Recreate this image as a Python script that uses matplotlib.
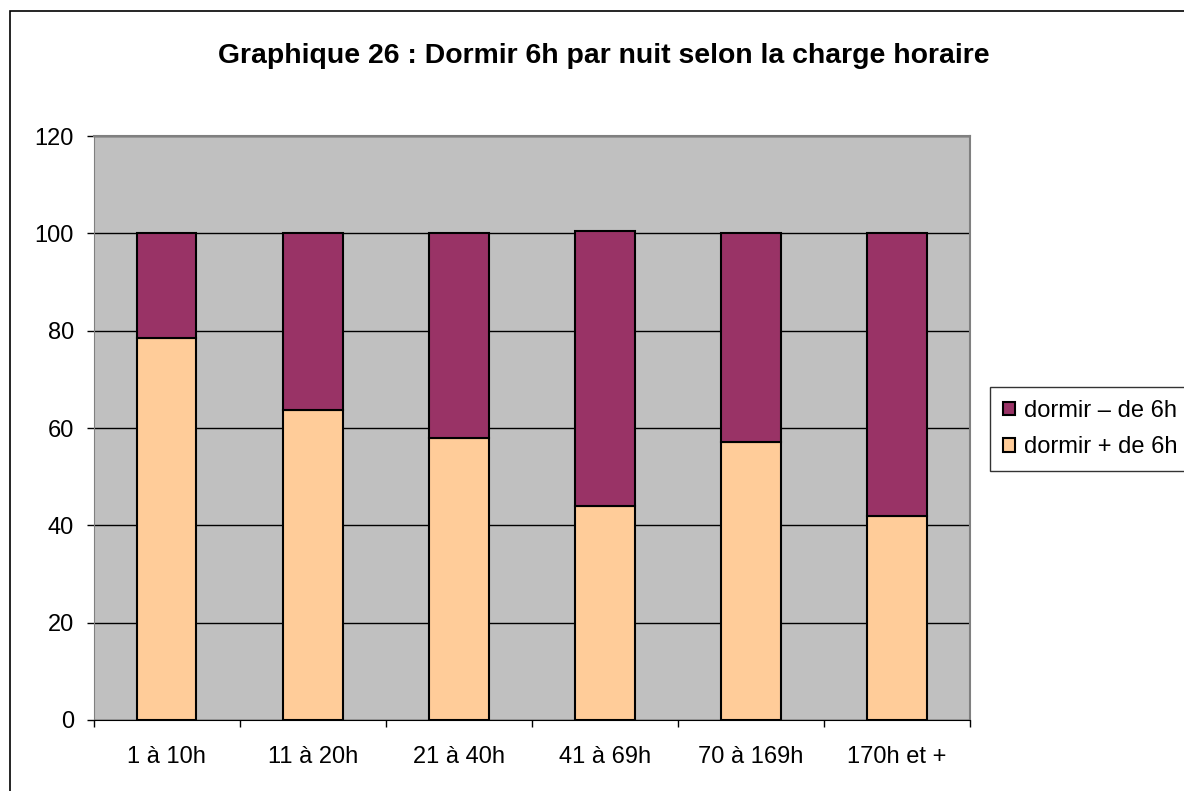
import matplotlib.pyplot as plt
import matplotlib.patches as patches
import numpy as np

categories = ["1 à 10h", "11 à 20h", "21 à 40h", "41 à 69h", "70 à 169h", "170h et +"]
plus_6h = [78.5, 63.8, 58.0, 43.9, 57.2, 41.9]
moins_6h = [21.5, 36.2, 42.0, 56.5, 42.8, 58.1]
yticks = [0, 20, 40, 60, 80, 100, 120]

W, H = 1184, 791
plt.rcParams["font.family"] = ["Liberation Sans", "DejaVu Sans"]

fig = plt.figure(figsize=(W / 100, H / 100), dpi=100)
ax = fig.add_axes([93.5 / W, (H - 720) / H, (970 - 93.5) / W, (720 - 136) / H])

x = np.arange(len(categories))
b1 = ax.bar(x, plus_6h, width=0.41, color="#FFCC99", edgecolor="black", linewidth=1.5, zorder=3)
b2 = ax.bar(x, moins_6h, bottom=plus_6h, width=0.41, color="#993366", edgecolor="black",
            linewidth=1.5, zorder=3)

ax.set_facecolor("#C0C0C0")
ax.set_xlim(-0.5, len(categories) - 0.5)
ax.set_ylim(0, 120)
ax.set_yticks(yticks)
ax.tick_params(axis="y", labelsize=17, length=5, width=1, pad=9)
ax.set_xticks(x)
ax.set_xticklabels(categories)
ax.set_xticks(np.arange(len(categories) + 1) - 0.5, minor=True)
ax.tick_params(axis="x", which="major", length=0, labelsize=17, pad=19)
ax.tick_params(axis="x", which="minor", length=5, width=1)
ax.yaxis.grid(True, color="black", linewidth=1, zorder=1)
ax.set_axisbelow(True)
for s in ["top", "right"]:
    ax.spines[s].set_color("#808080")
    ax.spines[s].set_linewidth(1.5)
ax.spines["left"].set_color("#808080")
ax.spines["bottom"].set_color("black")

fig.text(604 / W, 1 - 56 / H, "Graphique 26 : Dormir 6h par nuit selon la charge horaire",
         ha="center", va="center", fontsize=20.4, fontweight="bold")

leg = fig.legend([b2, b1], ["dormir – de 6h", "dormir + de 6h"], loc="upper left",
                 bbox_to_anchor=(990 / W, 1 - 387 / H), fontsize=17, frameon=True,
                 fancybox=False, edgecolor="black", handlelength=0.5, handleheight=0.5,
                 handletextpad=0.4, borderpad=0.55, labelspacing=0.6, borderaxespad=0)
leg.get_frame().set_linewidth(1)

fig.patches.append(patches.Rectangle((10 / W, -0.1), 2, 1 - 11 / H + 0.1, transform=fig.transFigure,
                                     fill=False, edgecolor="black", linewidth=1.2))

fig.savefig("out.png", dpi=100)
